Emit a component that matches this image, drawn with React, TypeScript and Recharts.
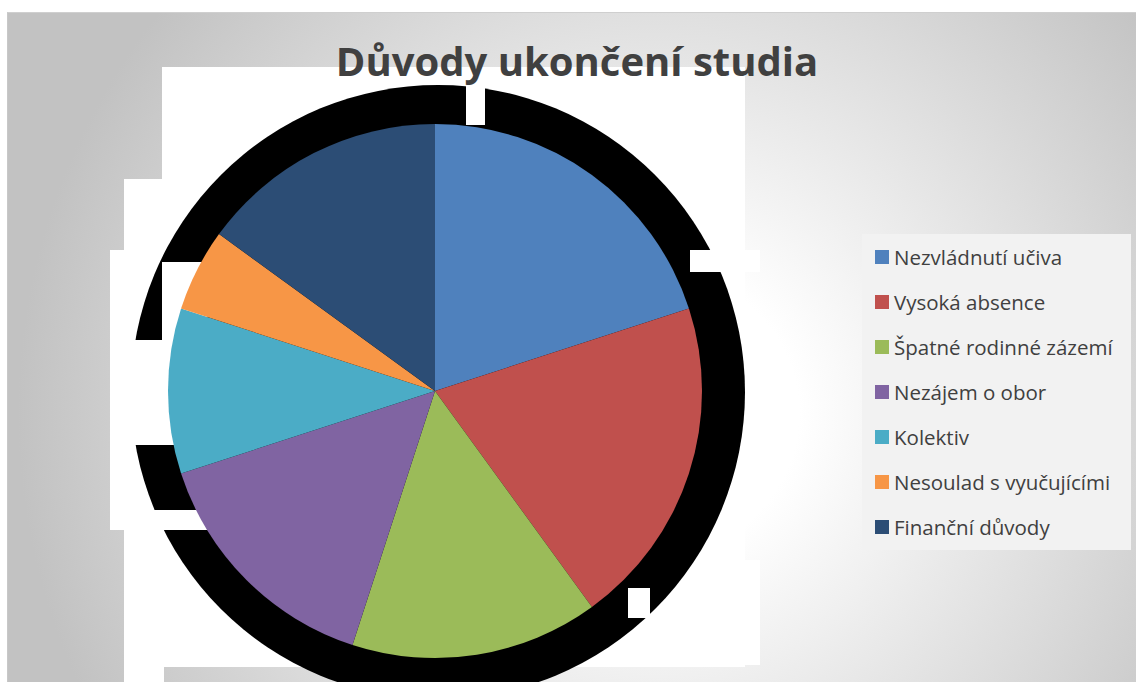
import React from 'react';
import { PieChart, Pie, Cell, Legend } from 'recharts';

// reasons for leaving school, share of answers in %
const reasons = [
  'Nezvládnutí učiva',
  'Vysoká absence',
  'Špatné rodinné zázemí',
  'Nezájem o obor',
  'Kolektiv',
  'Nesoulad s vyučujícími',
  'Finanční důvody',
];
const shares = [20, 20, 15, 15, 10, 5, 15];
const colors = ['#4F81BD', '#C0504D', '#9BBB59', '#8064A2', '#4BACC6', '#F79646', '#2C4D75'];

const title = 'Důvody ukončení studia';

const data = reasons.map((name, i) => ({ name, value: shares[i] }));

const white = (left: number, top: number, width: number, height: number) => ({
  position: 'absolute' as const,
  left,
  top,
  width,
  height,
  background: '#ffffff',
});

// legend keeps the series order (recharts would sort it by name)
const renderLegend = () => (
  <div
    style={{
      position: 'absolute',
      left: 862,
      top: 234,
      width: 269,
      height: 316,
      background: '#f2f2f2',
      boxSizing: 'border-box',
      paddingTop: 0,
      fontFamily: '"Open Sans", sans-serif',
      fontSize: 20.5,
      color: '#404040',
    }}
  >
    {reasons.map((name, i) => (
      <div key={name} style={{ display: 'flex', alignItems: 'center', height: 45, paddingLeft: 13 }}>
        <span style={{ width: 14, height: 14, background: colors[i], marginRight: 5, flexShrink: 0 }} />
        <span style={{ whiteSpace: 'nowrap', lineHeight: '26px' }}>{name}</span>
      </div>
    ))}
  </div>
);

export default function App() {
  return (
    <div style={{ position: 'absolute', left: 0, top: 0, width: 1136, height: 682, background: '#fff', overflow: 'hidden' }}>
      {/* chart area with grey radial fill */}
      <div
        style={{
          position: 'absolute',
          left: 7,
          top: 12,
          width: 1129,
          height: 670,
          borderTop: '1px solid #cfcfcf',
          borderLeft: '1px solid #c8c8c8',
          boxSizing: 'border-box',
          background: 'radial-gradient(circle 640px at 650px 400px, #ffffff 0%, #ffffff 22%, #c2c2c2 100%)',
        }}
      />
      {/* white blocks behind the plot */}
      <div style={white(162, 67, 583, 600)} />
      <div style={white(124, 179, 40, 503)} />
      <div style={white(110, 250, 20, 280)} />
      <div style={white(640, 560, 120, 105)} />
      {/* black shadow round the pie */}
      <div
        style={{
          position: 'absolute',
          left: 438 - 307,
          top: 392 - 307,
          width: 614,
          height: 614,
          borderRadius: '50%',
          background: '#000',
        }}
      />
      <div style={white(162, 262, 45, 80)} />
      <div style={white(110, 340, 90, 105)} />
      <div style={white(120, 510, 90, 20)} />
      <div style={white(690, 250, 70, 22)} />
      <div style={white(466, 80, 19, 45)} />
      <div style={white(628, 588, 22, 30)} />
      <div style={white(650, 617, 110, 48)} />

      <div
        style={{
          position: 'absolute',
          left: 7,
          top: 33,
          width: 1140,
          textAlign: 'center',
          fontFamily: '"Open Sans", sans-serif',
          fontWeight: 700,
          fontSize: 40,
          lineHeight: '56px',
          color: '#404040',
        }}
      >
        {title}
      </div>

      <div style={{ position: 'absolute', left: 0, top: 0 }}>
        <PieChart width={1136} height={682} margin={{ top: 0, right: 0, bottom: 0, left: 0 }}>
          <Pie
            data={data}
            dataKey="value"
            nameKey="name"
            cx={435}
            cy={391}
            outerRadius={267}
            startAngle={90}
            endAngle={-270}
            stroke="none"
            isAnimationActive={false}
          >
            {data.map((d, i) => (
              <Cell key={d.name} fill={colors[i]} />
            ))}
          </Pie>
          <Legend content={renderLegend} wrapperStyle={{ left: 0, top: 0, width: 0, height: 0 }} />
        </PieChart>
      </div>
    </div>
  );
}
